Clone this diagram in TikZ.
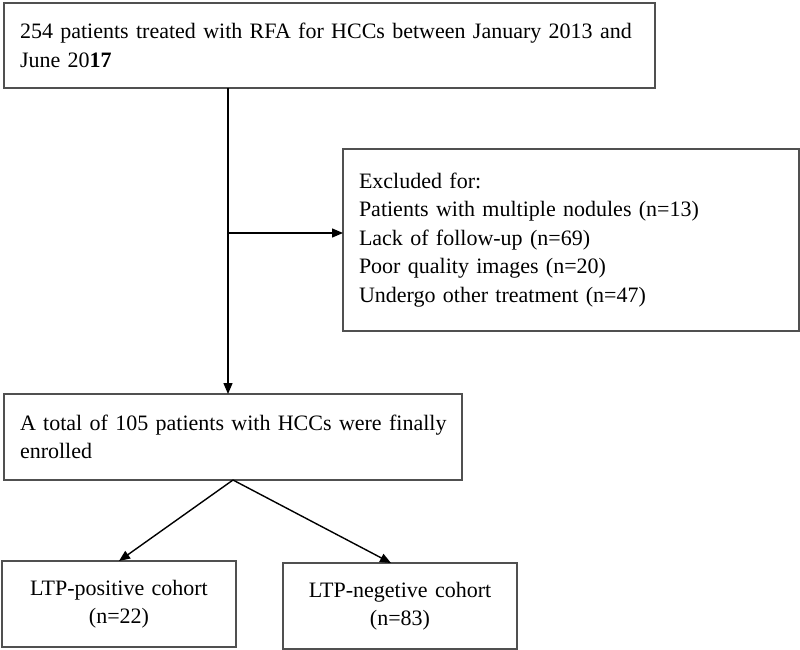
\documentclass[tikz,border=0pt]{standalone}
\usepackage{fontspec}
\setmainfont{Liberation Serif}
\usetikzlibrary{positioning,arrows.meta}
\definecolor{boxgray}{HTML}{505050}

\begin{document}
\begin{tikzpicture}[x=1pt,y=-1pt,every node/.style={outer sep=0pt},
 box/.style={draw=boxgray,line width=1.3pt,inner xsep=16pt,inner ysep=0pt,
 anchor=north west,font=\fontsize{22}{28.5}\selectfont},
 flow/.style={line width=1.4pt,-{Triangle[length=11pt,width=9pt]}}]
\useasboundingbox (0,0) rectangle (800,650);

  \node[box,text width=619pt,minimum height=85pt,align=left] (rfa) at (4,3)
   {\mbox{254 patients treated with RFA for HCCs between January 2013 and}\\June 20\textbf{17}};

  \node[box,text width=424pt,minimum height=182pt,align=left] (excl) at (343,149)
   {Excluded for:\\Patients with multiple nodules (n=13)\\Lack of follow-up (n=69)\\Poor quality images (n=20)\\Undergo other treatment (n=47)};

  \node[box,text width=426pt,minimum height=86pt,align=left] (enrol) at (4,394)
   {\mbox{A total of 105 patients with HCCs were finally}\\enrolled};

  \node[box,text width=202pt,minimum height=86pt,align=center] (pos) at (2,561)
   {LTP-positive cohort\\(n=22)};
  \node[box,text width=202pt,minimum height=86pt,align=center] (neg) at (283,563)
   {LTP-negetive cohort\\(n=83)};

\coordinate (split) at (228,233);
\draw[flow] (rfa.south -| split) -- (enrol.north -| split);
\draw[flow] (split) -- (excl.west |- split);

\draw[flow] (enrol.south) -- (pos.north);
\draw[flow] (enrol.south) -- ([xshift=-9pt]neg.north);
\end{tikzpicture}
\end{document}
